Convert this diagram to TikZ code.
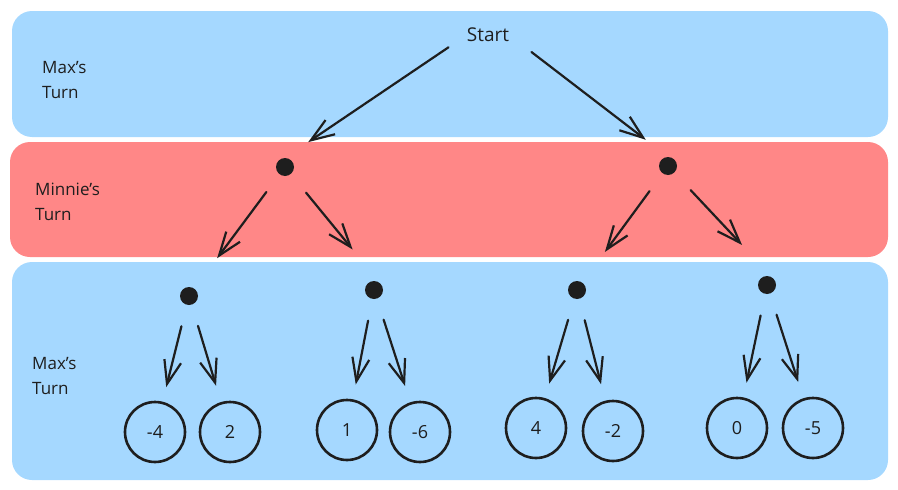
\documentclass[tikz,border=0pt]{standalone}
\usepackage{fontspec}
\setmainfont{Open Sans}
\usetikzlibrary{arrows.meta, calc, positioning}
\definecolor{maxblue}{HTML}{A5D8FF}
\definecolor{minred}{HTML}{FF8787}
\definecolor{inkblack}{HTML}{1E1E1E}

\begin{document}
\begin{tikzpicture}[x=1pt, y=-1pt, line cap=round, line join=round,
    >={Straight Barb[angle=40:25pt]},
    turn/.style={anchor=west, align=left, inner sep=0pt, text=inkblack, font=\fontsize{17}{25}\selectfont},
    dot/.style={circle, fill=inkblack, minimum size=18pt, inner sep=0pt},
    leaf/.style={circle, draw=inkblack, line width=2.6pt, minimum size=60pt, inner sep=0pt, text=inkblack, font=\fontsize{18}{18}\selectfont},
    move/.style={->, draw=inkblack, line width=2.2pt}]
    \useasboundingbox (0,0) rectangle (898,490);
		% turn bands
		\fill [maxblue, rounded corners=20pt] (12,11) rectangle (888,137);
		\fill [minred, rounded corners=20pt] (10,142) rectangle (888,257);
		\fill [maxblue, rounded corners=20pt] (12,262) rectangle (888,480);

		\node [turn] (maxtop) at (42,80) {Max's\\Turn};
		\node [turn] (minmid) at (35,202) {Minnie's\\Turn};
		\node [turn] (maxbot) at (32,376) {Max's\\Turn};

		% tree
		\node [text=inkblack, inner sep=0pt, font=\fontsize{19}{19}\selectfont] (start) at (488,35) {Start};

		\node [dot] (mn1) at (285,167) {};
		\node [dot] (mn2) at (668,166) {};

		\node [dot] (mx1) at (189,296) {};
		\node [dot] (mx2) at (374,290) {};
		\node [dot] (mx3) at (577,290) {};
		\node [dot] (mx4) at (767,285) {};

		\node [leaf] (v1) at (155,432) {-4};
		\node [leaf] (v2) at (230,432) {2};
		\node [leaf] (v3) at (347,430) {1};
		\node [leaf] (v4) at (420,432) {-6};
		\node [leaf] (v5) at (536,428) {4};
		\node [leaf] (v6) at (613,431) {-2};
		\node [leaf] (v7) at (737,428) {0};
		\node [leaf] (v8) at (813,428) {-5};

		% moves
		\draw [move, shorten <=22pt, shorten >=28pt] (start.west)--(mn1.north);
		\draw [move, shorten <=28pt, shorten >=28pt] (start.east)--(mn2.north);

		\draw [move, shorten <=22pt, shorten >=38pt] (mn1)--(mx1);
		\draw [move, shorten <=24pt, shorten >=44pt] (mn1)--(mx2.north east);
		\draw [move, shorten <=22pt, shorten >=38pt] (mn2)--(mx3);
		\draw [move, shorten <=24pt, shorten >=46pt] (mn2)--(mx4.north east);

		\draw [move, shorten <=22pt, shorten >=15pt] (mx1)--(v1);
		\draw [move, shorten <=22pt, shorten >=17pt] (mx1)--(v2);
		\draw [move, shorten <=22pt, shorten >=15pt] (mx2)--(v3);
		\draw [move, shorten <=22pt, shorten >=17pt] (mx2)--(v4);
		\draw [move, shorten <=22pt, shorten >=15pt] (mx3)--(v5);
		\draw [move, shorten <=22pt, shorten >=17pt] (mx3)--(v6);
		\draw [move, shorten <=22pt, shorten >=15pt] (mx4)--(v7);
		\draw [move, shorten <=22pt, shorten >=17pt] (mx4)--(v8);
\end{tikzpicture}
\end{document}
